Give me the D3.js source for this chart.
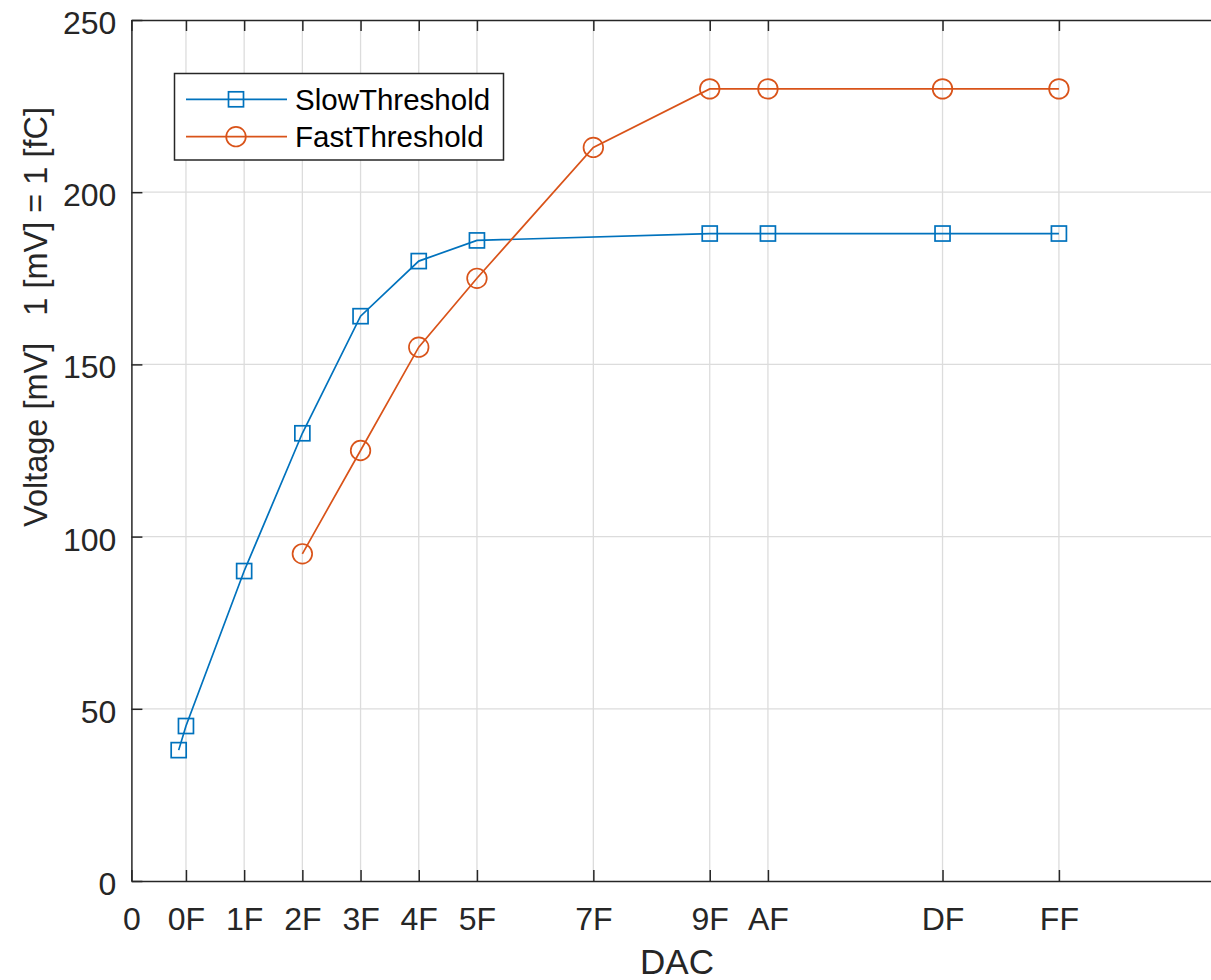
<!DOCTYPE html>
<html>
<head>
<meta charset="utf-8">
<script src="https://cdn.jsdelivr.net/npm/d3@7"></script>
<style>
  body { margin: 0; background: #fff; }
  svg text { font-family: Arial, "Liberation Sans", Helvetica, sans-serif; fill: #262626; }
</style>
</head>
<body>
<div id="chart"></div>
<script>

// ─── DATA ───────────────────────────────────────────────────────────────────────
// DAC register values (hex) and measured threshold in mV
const slowDac = [0x0D, 0x0F, 0x1F, 0x2F, 0x3F, 0x4F, 0x5F, 0x9F, 0xAF, 0xDF, 0xFF];
const slowMv  = [38, 45, 90, 130, 164, 180, 186, 188, 188, 188, 188];

const fastDac = [0x2F, 0x3F, 0x4F, 0x5F, 0x7F, 0x9F, 0xAF, 0xDF, 0xFF];
const fastMv  = [95, 125, 155, 175, 213, 230, 230, 230, 230];

const xTickValues = [0, 0x0F, 0x1F, 0x2F, 0x3F, 0x4F, 0x5F, 0x7F, 0x9F, 0xAF, 0xDF, 0xFF];
const xTickLabels = ['0', '0F', '1F', '2F', '3F', '4F', '5F', '7F', '9F', 'AF', 'DF', 'FF'];
const yTickValues = [0, 50, 100, 150, 200, 250];

const seriesNames = ['SlowThreshold', 'FastThreshold'];
const seriesColors = ['#0072BD', '#D95319'];

//──────────────── SIZE
const W = 1211, H = 980;
const margin = { left: 131.4, right: 1222.6, top: 20, bottom: 881 };
const tickLen = 11;

const svg = d3.select('#chart')
  .append('svg')
  .attr('width', W)
  .attr('height', H);

// ─── SCALES ─────────────────────────────────────────────────────────────────────
const x = d3.scaleLinear().domain([0, 300]).range([margin.left, margin.right]);
const y = d3.scaleLinear().domain([0, 250]).range([margin.bottom, margin.top]);

// ─── GRID ───────────────────────────────────────────────────────────────────────
const grid = svg.append('g').attr('stroke', '#dcdcdc').attr('stroke-width', 1.3);
grid.selectAll('.gx').data(xTickValues.slice(1)).enter().append('line')
  .attr('x1', d => x(d)).attr('x2', d => x(d))
  .attr('y1', margin.top).attr('y2', margin.bottom);
grid.selectAll('.gy').data(yTickValues.slice(1, -1)).enter().append('line')
  .attr('x1', margin.left).attr('x2', margin.right)
  .attr('y1', d => y(d)).attr('y2', d => y(d));

// ─── AXES ───────────────────────────────────────────────────────────────────────
// bottom, ticks pointing in
const xAxis = d3.axisBottom(x)
  .tickValues(xTickValues)
  .tickFormat((d, i) => xTickLabels[i])
  .tickSizeInner(-tickLen)
  .tickSizeOuter(0)
  .tickPadding(tickLen + 15);
const gx = svg.append('g').attr('transform', `translate(0,${margin.bottom})`).call(xAxis);

// top, ticks only
const xTop = d3.axisTop(x).tickValues(xTickValues).tickFormat('')
  .tickSizeInner(-tickLen).tickSizeOuter(0);
const gxt = svg.append('g').attr('transform', `translate(0,${margin.top})`).call(xTop);

// left
const yAxis = d3.axisLeft(y)
  .tickValues(yTickValues)
  .tickSizeInner(-tickLen)
  .tickSizeOuter(0)
  .tickPadding(tickLen + 4);
const gy = svg.append('g').attr('transform', `translate(${margin.left},0)`).call(yAxis);

[gx, gxt, gy].forEach(g => {
  g.select('.domain').attr('stroke', '#262626').attr('stroke-width', 1.5);
  g.selectAll('.tick line').attr('stroke', '#262626').attr('stroke-width', 1.5);
  g.selectAll('.tick text')
    .attr('fill', '#262626')
    .style('font-size', '32px')
    .style('font-family', 'Arial, "Liberation Sans", sans-serif');
});
gx.selectAll('.tick text').attr('dy', '0.71em');
gy.selectAll('.tick text').attr('dy', '0.42em');

// ─── LINES + MARKERS ────────────────────────────────────────────────────────────
const slow = slowDac.map((d, i) => ({ dac: d, mv: slowMv[i] }));
const fast = fastDac.map((d, i) => ({ dac: d, mv: fastMv[i] }));

const line = d3.line().x(d => x(d.dac)).y(d => y(d.mv));

svg.append('path').datum(slow)
  .attr('d', line).attr('fill', 'none')
  .attr('stroke', seriesColors[0]).attr('stroke-width', 1.7);
svg.append('path').datum(fast)
  .attr('d', line).attr('fill', 'none')
  .attr('stroke', seriesColors[1]).attr('stroke-width', 1.7);

const sq = 15;
svg.selectAll('.sq').data(slow).enter().append('rect')
  .attr('x', d => x(d.dac) - sq / 2)
  .attr('y', d => y(d.mv) - sq / 2)
  .attr('width', sq).attr('height', sq)
  .attr('fill', 'none')
  .attr('stroke', seriesColors[0]).attr('stroke-width', 1.7);

svg.selectAll('.ci').data(fast).enter().append('circle')
  .attr('cx', d => x(d.dac))
  .attr('cy', d => y(d.mv))
  .attr('r', 9.8)
  .attr('fill', 'none')
  .attr('stroke', seriesColors[1]).attr('stroke-width', 1.7);

// ─── LABELS ─────────────────────────────────────────────────────────────────────
svg.append('text')
  .attr('x', (margin.left + margin.right) / 2)
  .attr('y', 974)
  .attr('text-anchor', 'middle')
  .style('font-size', '35px')
  .text('DAC');

svg.append('text')
  .attr('transform', 'translate(47,527) rotate(-90)')
  .attr('text-anchor', 'start')
  .style('font-size', '32.5px')
  .style('white-space', 'pre')
  .text('Voltage [mV]   1 [mV] = 1 [fC]');

// ─── LEGEND ─────────────────────────────────────────────────────────────────────
const legend = svg.append('g');
legend.append('rect')
  .attr('x', 174.5).attr('y', 73.5)
  .attr('width', 329).attr('height', 86.5)
  .attr('fill', '#fff')
  .attr('stroke', '#262626').attr('stroke-width', 1.5);

const rows = [99.3, 136.7];
seriesNames.forEach((name, i) => {
  const row = legend.append('g');
  row.append('line')
    .attr('x1', 186).attr('x2', 287)
    .attr('y1', rows[i]).attr('y2', rows[i])
    .attr('stroke', seriesColors[i]).attr('stroke-width', 1.7);
  if (i === 0) {
    row.append('rect')
      .attr('x', 236 - sq / 2).attr('y', rows[i] - sq / 2)
      .attr('width', sq).attr('height', sq)
      .attr('fill', 'none')
      .attr('stroke', seriesColors[i]).attr('stroke-width', 1.7);
  } else {
    row.append('circle')
      .attr('cx', 236).attr('cy', rows[i]).attr('r', 9.8)
      .attr('fill', 'none')
      .attr('stroke', seriesColors[i]).attr('stroke-width', 1.7);
  }
  row.append('text')
    .attr('x', 295).attr('y', rows[i] + 10.5)
    .style('font-size', '29.5px')
    .style('fill', '#000')
    .text(name);
});

</script>
</body>
</html>
